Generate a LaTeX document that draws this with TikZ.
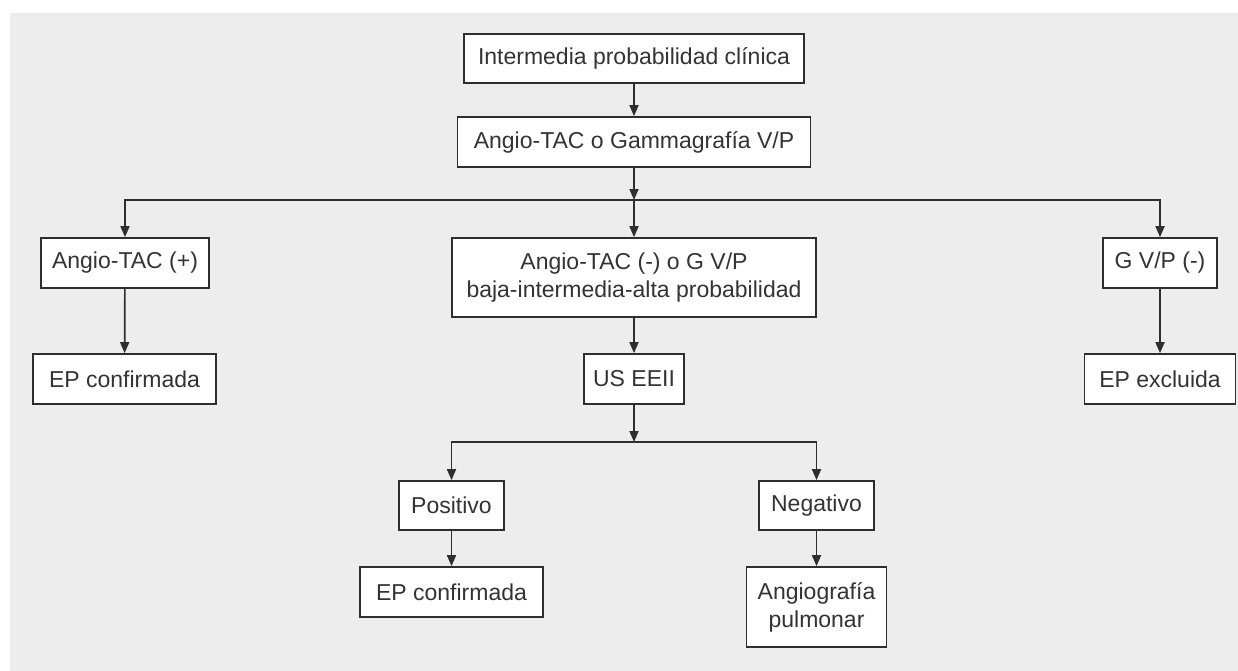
\documentclass[tikz,border=0pt]{standalone}
\usepackage{fontspec}
\setmainfont{Liberation Sans}
\usetikzlibrary{arrows.meta}
\definecolor{panel}{HTML}{EDEDED}
\definecolor{ink}{HTML}{2E2E2E}
\definecolor{label}{HTML}{333333}
\tikzset{
  box/.style={draw=ink, line width=1.7pt, fill=white, text=label, inner sep=0pt,
    align=center, font=\fontsize{23}{28}\selectfont},
  arr/.style={draw=ink, line width=1.7pt,
    -{Triangle[width=9pt,length=11pt]}},
  ln/.style={draw=ink, line width=1.7pt}
}
\begin{document}
\begin{tikzpicture}[x=1pt,y=-1pt]
  \useasboundingbox (0,0) rectangle (1238,671);
  \fill[panel] (10,13) rectangle (1238,671);

  % upper chain
  \node[box, minimum width=340pt, minimum height=49pt] (top) at (634,58.5) {Intermedia probabilidad clínica};
  \node[box, minimum width=353pt, minimum height=50pt] (gam) at (634,142) {Angio-TAC o Gammagrafía V/P};

  % three outcomes of the first test
  \node[box, minimum width=168pt, minimum height=50pt] (pos) at (125,263) {Angio-TAC (+)};
  \node[box, minimum width=364pt, minimum height=79pt] (mid) at (634,277.5) {Angio-TAC (-) o G V/P\\baja-intermedia-alta probabilidad};
  \node[box, minimum width=114pt, minimum height=50pt] (neg) at (1160,263) {G V/P (-)};

  \node[box, minimum width=183pt, minimum height=50pt] (epc) at (124.5,379) {EP confirmada};
  \node[box, minimum width=100pt, minimum height=50pt] (us) at (634,379) {US EEII};
  \node[box, minimum width=151pt, minimum height=50pt] (epx) at (1160,379) {EP excluida};

  % ultrasound results
  \node[box, minimum width=105pt, minimum height=49pt] (posi) at (451.5,505.5) {Positivo};
  \node[box, minimum width=115pt, minimum height=49pt] (nega) at (816.5,505.5) {Negativo};
  \node[box, minimum width=183pt, minimum height=50pt] (epc2) at (451.5,592) {EP confirmada};
  \node[box, minimum width=140pt, minimum height=80pt] (angio) at (816.5,607) {Angiografía\\pulmonar};

  \coordinate (s1) at (634,200);
  \coordinate (s2) at (634,442);

  \draw[arr] (top) -- (gam);
  \draw[arr] (gam) -- (s1);
  \draw[ln] (pos.north |- s1) -- (neg.north |- s1);
  \draw[arr] (s1) -| (pos.north);
  \draw[arr] (s1) -- (mid.north);
  \draw[arr] (s1) -| (neg.north);

  \draw[arr] (pos) -- (epc);
  \draw[arr] (mid) -- (us);
  \draw[arr] (neg) -- (epx);

  \draw[arr] (us) -- (s2);
  \draw[ln] (posi.north |- s2) -- (nega.north |- s2);
  \draw[arr] (s2) -| (posi.north);
  \draw[arr] (s2) -| (nega.north);

  \draw[arr] (posi) -- (epc2);
  \draw[arr] (nega) -- (angio);
\end{tikzpicture}
\end{document}
